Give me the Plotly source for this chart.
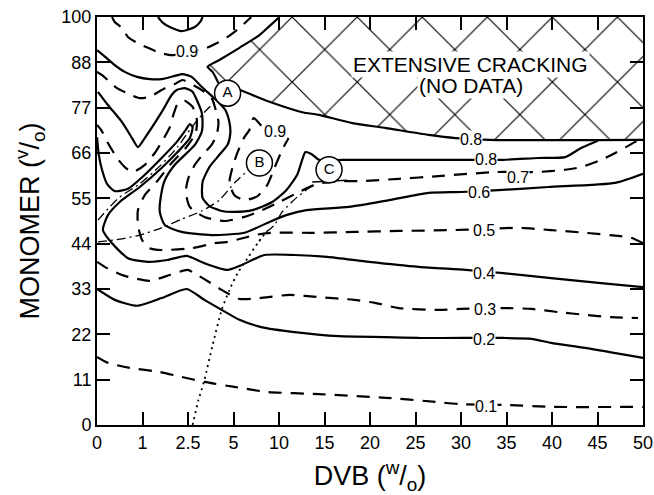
import plotly.graph_objects as go

# ---------------- axis tick labels (evenly spaced, non-linear values) ----------------
dvb_ticks = ["0", "1", "2.5", "5", "10", "15", "20", "25", "30", "35", "40", "45", "50"]
monomer_ticks = ["0", "11", "22", "33", "44", "55", "66", "77", "88", "100"]

# ---------------- contour lines, positions in tick-index units ----------------
# 0.1 (dashed)
c01_x = [0, 0.24, 0.72, 1.38, 1.86, 2.36, 3.02, 3.74, 4.88, 6.35, 7.44, 7.99, 9.04, 9.98, 12]
c01_y = [1.50, 1.37, 1.26, 1.17, 1.06, 0.95, 0.84, 0.73, 0.68, 0.60, 0.51, 0.46, 0.44, 0.40, 0.40]
# 0.2 (solid)
c02_x = [0, 0.39, 0.88, 1.42, 1.97, 2.36, 2.74, 3.13, 3.61, 4.34, 5.32, 6.35, 7.07, 8.06, 8.93, 9.55, 9.98, 10.73, 12]
c02_y = [3.00, 2.76, 2.63, 2.80, 3.00, 2.76, 2.54, 2.32, 2.16, 2.05, 1.96, 1.94, 1.92, 1.92, 1.92, 1.90, 1.81, 1.70, 1.48]
# 0.3 (dashed)
c03_x = [0, 0.22, 0.61, 1.16, 1.60, 1.99, 2.17, 2.47, 2.74, 3.13, 3.57, 4.23, 4.88, 5.65, 6.13, 6.63, 7.51, 7.99,
         8.93, 9.55, 10.14, 10.73, 11.30, 11.89]
c03_y = [3.60, 3.46, 3.29, 3.18, 3.31, 3.42, 3.33, 3.15, 2.98, 2.78, 2.80, 2.87, 2.82, 2.76, 2.69, 2.58, 2.54, 2.56,
         2.58, 2.56, 2.49, 2.43, 2.38, 2.36]
# 0.4 (solid, with the narrow tongue at the left)
c04_x = [0, 0.04, 0.11, 0.22, 0.39, 0.68, 1.05, 1.42, 1.75, 1.95, 2.04, 2.10, 2.04, 1.77, 1.42, 0.94, 0.50, 0.24,
         0.13, 0.33, 0.68, 1.12, 1.55, 1.97, 2.36, 2.87, 3.18, 3.68, 4.34, 5.06, 5.98, 7.07, 8.10, 8.93, 9.98, 11.08, 12]
c04_y = [6.35, 5.96, 5.63, 5.32, 5.16, 5.21, 5.52, 5.89, 6.24, 6.51, 6.64, 6.57, 6.33, 6.02, 5.67, 5.25, 4.92, 4.63,
         4.30, 4.01, 3.68, 3.60, 3.64, 3.73, 3.57, 3.42, 3.53, 3.75, 3.75, 3.71, 3.60, 3.49, 3.42, 3.35, 3.24, 3.13, 3.04]
# 0.5 (dashed)
c05_x = [12, 11.74, 11.45, 10.73, 9.98, 9.26, 8.50, 7.80, 6.63, 5.65, 4.77, 3.83, 3.46, 3.24, 2.87, 2.58, 2.08, 1.42,
         1.16, 0.99, 0.90, 0.90, 1.05, 1.34, 1.64, 1.95, 2.17, 2.19, 2.10, 1.93, 1.77, 1.69, 1.60, 1.45, 1.27, 1.05,
         0.79, 0.61, 0.44, 0.24, 0.09, 0]
c05_y = [4.01, 4.13, 4.17, 4.24, 4.30, 4.35, 4.32, 4.30, 4.28, 4.26, 4.24, 4.24, 4.19, 4.13, 4.04, 4.01, 3.90, 3.86,
         3.90, 4.08, 4.41, 4.74, 5.07, 5.40, 5.78, 6.11, 6.44, 6.77, 7.02, 7.15, 7.08, 6.88, 6.57, 6.29, 6.00, 5.74,
         5.58, 5.69, 5.89, 6.22, 6.51, 6.62]
# 0.6 (solid)
c06_x = [0.02, 0.24, 0.55, 0.77, 0.90, 1.05, 1.42, 1.64, 1.75, 1.93, 2.10, 2.21, 2.30, 2.32, 2.30, 2.15, 1.71, 1.49,
         1.42, 1.38, 1.49, 1.86, 2.52, 3.24, 3.79, 4.16, 4.60, 5.54, 6.42, 7.29, 8.01, 8.82, 9.92, 11.39, 12]
c06_y = [7.35, 7.06, 6.68, 6.33, 6.13, 6.33, 6.90, 7.28, 7.39, 7.43, 7.35, 7.13, 6.90, 6.68, 6.46, 6.18, 5.74, 5.40,
         5.14, 4.70, 4.41, 4.26, 4.19, 4.24, 4.48, 4.63, 4.74, 4.81, 4.96, 5.12, 5.14, 5.18, 5.25, 5.34, 5.54]
# 0.7 (dashed)
c07_x = [0, 0.11, 0.28, 0.44, 0.66, 0.94, 1.16, 1.49, 1.71, 1.88, 2.15, 2.36, 2.52, 2.61, 2.67, 2.63, 2.52, 2.32,
         2.15, 2.01, 1.95, 2.04, 2.36, 2.80, 3.24, 3.63, 4.01, 4.44, 4.84, 5.43, 5.76, 6.63, 7.51, 8.76, 9.66, 10.29,
         10.64, 11.08, 11.39, 11.82, 12]
c07_y = [7.79, 7.72, 7.57, 7.43, 7.32, 7.21, 7.24, 7.43, 7.52, 7.61, 7.48, 7.35, 7.21, 6.95, 6.68, 6.40, 6.18, 5.96,
         5.74, 5.45, 5.14, 4.81, 4.59, 4.50, 4.59, 4.74, 4.92, 5.14, 5.32, 5.38, 5.38, 5.43, 5.49, 5.58, 5.58, 5.63,
         5.69, 5.85, 6.00, 6.24, 6.33]
# 0.8 (solid) main line through A and C
c08_x = [0, 0.18, 0.39, 0.61, 0.88, 1.16, 1.42, 1.71, 1.88, 2.08, 2.30, 2.52, 2.69, 2.82, 2.91, 2.93, 2.87, 2.69,
         2.47, 2.32, 2.32, 2.47, 2.74, 3.02, 3.42, 3.85, 4.16, 4.40, 4.51, 4.58, 4.71, 4.88, 5.39, 6.63, 8.10, 8.93,
         9.70, 10.29, 10.64, 11.01]
c08_y = [8.27, 8.12, 7.94, 7.79, 7.68, 7.63, 7.63, 7.70, 7.74, 7.68, 7.46, 7.26, 7.10, 6.95, 6.68, 6.44, 6.18, 5.96,
         5.69, 5.36, 5.01, 4.83, 4.72, 4.70, 4.74, 4.92, 5.18, 5.52, 5.85, 6.02, 5.98, 5.85, 5.85, 5.85, 5.85, 5.85,
         5.89, 5.91, 6.11, 6.27]
# 0.8 (solid) upper line = lower edge of the cracking region
c08b_x = [3.15, 3.46, 3.79, 4.51, 4.88, 5.61, 6.35, 7.29, 7.88, 8.61, 12]
c08b_y = [7.39, 7.26, 7.13, 6.90, 6.84, 6.66, 6.55, 6.40, 6.33, 6.29, 6.29]
# edge of the cracking region from A up to the top
crack_x = [2.67, 2.54, 2.43, 2.69, 3.13, 3.57, 3.79, 4.01]
crack_y = [7.54, 7.79, 7.90, 8.05, 8.32, 8.60, 8.80, 9.00]
# 0.9 (dashed) near the top
c09_x = [0.33, 0.39, 0.55, 0.68, 0.88, 1.12, 1.38, 1.64, 1.97, 2.41, 2.65, 2.87, 3.13, 3.35, 3.39]
c09_y = [9.00, 8.89, 8.76, 8.56, 8.43, 8.32, 8.21, 8.16, 8.21, 8.32, 8.43, 8.56, 8.76, 8.96, 9.00]
# solid arc at the very top
ctop_x = [1.34, 1.45, 1.60, 1.86, 2.15, 2.28, 2.32]
ctop_y = [9.00, 8.87, 8.78, 8.69, 8.78, 8.91, 9.00]
# 0.9 (dashed) loop round B
c09b_x = [3.61, 3.44, 3.35, 3.24, 3.09, 2.98, 2.91, 3.02, 3.24, 3.53, 3.74, 3.90, 4.07, 4.21]
c09b_y = [6.60, 6.77, 6.51, 6.35, 6.02, 5.69, 5.34, 5.07, 4.96, 5.05, 5.29, 5.67, 6.07, 6.33]

# paths to points A, B, C
pathA_x = [0.02, 0.28, 0.50, 0.94, 1.38, 1.77, 1.99, 2.17, 2.36, 2.52, 2.63]
pathA_y = [4.52, 4.81, 5.03, 5.32, 5.71, 6.13, 6.44, 6.68, 6.90, 7.06, 7.15]
pathB_x = [0.02, 0.50, 0.94, 1.42, 1.86, 2.30, 2.69, 3.02, 3.33]
pathB_y = [4.04, 4.10, 4.19, 4.35, 4.54, 4.72, 4.96, 5.34, 5.63]
pathC_dot_x = [2.10, 2.23, 2.36, 2.54, 2.74, 2.91, 3.09, 3.31, 3.53, 3.72]
pathC_dot_y = [0.00, 0.55, 0.99, 1.76, 2.54, 2.98, 3.35, 3.68, 4.01, 4.26]
pathC_x = [3.72, 3.90, 4.07, 4.38, 4.71]
pathC_y = [4.26, 4.41, 4.70, 5.01, 5.27]
baseC_x = [4.73, 5.50]
baseC_y = [5.36, 5.40]

# points
pt_names = ["A", "B", "C"]
pt_x = [2.87, 3.57, 5.10]
pt_y = [7.32, 5.78, 5.63]

# contour labels
lab_text = ["0.9", "0.9", "0.8", "0.8", "0.7", "0.6", "0.5", "0.4", "0.3", "0.2", "0.1"]
lab_x = [1.97, 3.92, 8.23, 8.54, 9.26, 8.39, 8.50, 8.50, 8.52, 8.50, 8.54]
lab_y = [8.23, 6.47, 6.29, 5.85, 5.47, 5.12, 4.30, 3.35, 2.54, 1.88, 0.40]

SOLID = "solid"
DASH = "13px,9px"
DASHDOT = "9px,4px,2px,4px"
DOT = "2px,4px"
LW = 2.2

fig = go.Figure()

# cross-hatched cracking region
poly_x = [pt_x[0]] + crack_x + [12] + c08b_x[::-1] + [pt_x[0]]
poly_y = [pt_y[0]] + crack_y + [9] + c08b_y[::-1] + [pt_y[0]]
fig.add_trace(go.Scatter(
    x=poly_x, y=poly_y, mode="lines", fill="toself", line=dict(width=0, color="black"),
    fillcolor="rgba(0,0,0,0)",
    fillpattern=dict(shape="x", size=46, solidity=0.05, fgcolor="black", bgcolor="white", fgopacity=1),
    hoverinfo="skip"))


def add_line(xs, ys, dash, width=LW):
    fig.add_trace(go.Scatter(x=xs, y=ys, mode="lines",
                             line=dict(color="black", width=width, dash=dash, shape="spline", smoothing=0.6),
                             hoverinfo="skip"))


add_line(c01_x, c01_y, DASH)
add_line(c02_x, c02_y, SOLID)
add_line(c03_x, c03_y, DASH)
add_line(c04_x, c04_y, SOLID)
add_line(c05_x, c05_y, DASH)
add_line(c06_x, c06_y, SOLID)
add_line(c07_x, c07_y, DASH)
add_line(c08_x, c08_y, SOLID)
add_line(c08b_x, c08b_y, SOLID)
add_line(crack_x, crack_y, SOLID)
add_line(c09_x, c09_y, DASH)
add_line(ctop_x, ctop_y, SOLID)
add_line(c09b_x, c09b_y, DASH)
add_line(pathA_x, pathA_y, DASHDOT, 1.3)
add_line(pathB_x, pathB_y, DASHDOT, 1.3)
add_line(pathC_dot_x, pathC_dot_y, DOT, 1.8)
add_line(pathC_x, pathC_y, DASHDOT, 1.3)
add_line(baseC_x, baseC_y, SOLID, 1.6)

# circled points
fig.add_trace(go.Scatter(
    x=pt_x, y=pt_y, mode="markers+text", text=pt_names, textposition="middle center",
    textfont=dict(family="Arial", size=15, color="black"),
    marker=dict(size=26, color="white", line=dict(color="black", width=1.5)),
    hoverinfo="skip"))

for t, xx, yy in zip(lab_text, lab_x, lab_y):
    fig.add_annotation(x=xx, y=yy, text=t, showarrow=False, bgcolor="white", borderpad=0,
                       font=dict(family="Arial", size=16, color="black"))

fig.add_annotation(x=8.21, y=7.96, text="EXTENSIVE CRACKING", showarrow=False, bgcolor="white",
                   borderpad=1, font=dict(family="Arial", size=21, color="black"))
fig.add_annotation(x=8.21, y=7.50, text="(NO DATA)", showarrow=False, bgcolor="white",
                   borderpad=1, font=dict(family="Arial", size=21, color="black"))

axis_common = dict(showgrid=False, zeroline=False, showline=True, linecolor="black", linewidth=2,
                   mirror="ticks", ticks="inside", ticklen=13, tickwidth=1.5, tickcolor="black",
                   automargin=False, ticklabeloverflow="allow",
                   tickfont=dict(family="Arial", size=18, color="black"))

fig.update_layout(
    width=654, height=495,
    margin=dict(l=97, r=11, t=17, b=70),
    paper_bgcolor="white", plot_bgcolor="white",
    showlegend=False,
    xaxis=dict(range=[0, 12], tickmode="array", tickvals=list(range(len(dvb_ticks))), ticktext=dvb_ticks,
               title=dict(text="DVB (<sup>w</sup>/<sub>o</sub>)", font=dict(family="Arial", size=27, color="black"),
                          standoff=23),
               **axis_common),
    yaxis=dict(range=[0, 9], tickmode="array", tickvals=list(range(len(monomer_ticks))), ticktext=monomer_ticks,
               title=dict(text="MONOMER (<sup>v</sup>/<sub>o</sub>)", font=dict(family="Arial", size=27, color="black"),
                          standoff=14),
               **axis_common),
)

fig.write_html("out.html")
